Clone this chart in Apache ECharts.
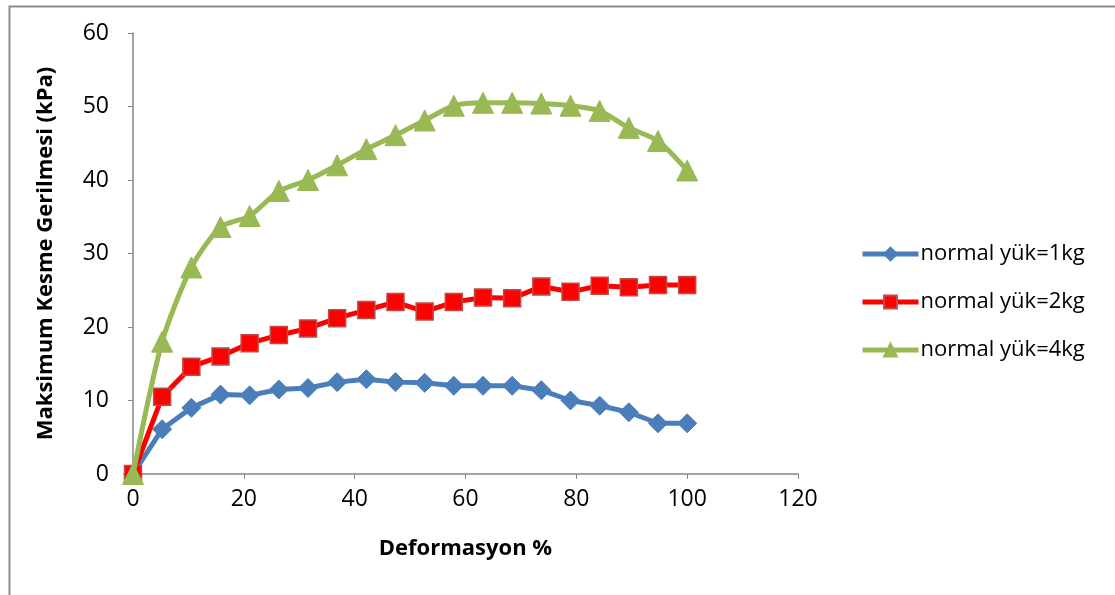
<!DOCTYPE html>
<html>
<head>
<meta charset="utf-8">
<script src="https://cdn.jsdelivr.net/npm/echarts@6/dist/echarts.min.js"></script>
<style>
html,body{margin:0;padding:0;background:#fff;}
#chart{width:1115px;height:595px;}
</style>
</head>
<body>
<div id="chart"></div>
<script>
const deformation = [0, 5.26, 10.53, 15.79, 21.05, 26.32, 31.58, 36.84, 42.11, 47.37, 52.63, 57.89, 63.16, 68.42, 73.68, 78.95, 84.21, 89.47, 94.74, 100];
const load1kg = [0, 6.1, 9.0, 10.8, 10.7, 11.5, 11.7, 12.5, 12.9, 12.5, 12.4, 12.0, 12.0, 12.0, 11.4, 10.0, 9.3, 8.4, 6.9, 6.9];
const load2kg = [0, 10.5, 14.6, 16.0, 17.8, 18.9, 19.8, 21.2, 22.3, 23.4, 22.1, 23.4, 24.0, 23.9, 25.5, 24.8, 25.6, 25.4, 25.7, 25.7];
const load4kg = [0, 18.0, 28.1, 33.6, 35.1, 38.5, 40.0, 42.0, 44.2, 46.1, 48.1, 50.1, 50.5, 50.5, 50.4, 50.1, 49.4, 47.1, 45.3, 41.3];
const seriesNames = ['normal yük=1kg', 'normal yük=2kg', 'normal yük=4kg'];
const xTitle = 'Deformasyon %';
const yTitle = 'Maksimum Kesme Gerilmesi (kPa)';

const pairs = ys => deformation.map((x, i) => [x, ys[i]]);
const font = '"Open Sans", "Liberation Sans", sans-serif';

const chart = echarts.init(document.getElementById('chart'));
chart.setOption({
  animation: false,
  backgroundColor: '#fff',
  textStyle: { fontFamily: font },
  graphic: [{
    type: 'rect', left: 7, top: 4, silent: true,
    shape: { width: 1200, height: 700 },
    style: { fill: 'none', stroke: '#8c8c8c', lineWidth: 2 }
  }],
  grid: { left: 133, right: 317, top: 33, bottom: 121, containLabel: false },
  legend: {
    orient: 'vertical', left: 855, top: 238, itemGap: 26,
    itemWidth: 56, itemHeight: 16,
    lineStyle: { width: 5 },
    textStyle: { fontSize: 22, color: '#000', fontFamily: font, padding: [0, 0, 0, -3] },
    data: seriesNames
  },
  xAxis: {
    type: 'value', min: 0, max: 120, interval: 20,
    name: xTitle, nameLocation: 'middle', nameGap: 64,
    nameTextStyle: { fontSize: 22, fontWeight: 'bold', color: '#000', fontFamily: font },
    axisLine: { lineStyle: { color: '#868686', width: 1.5 } },
    axisTick: { show: true, length: 5, lineStyle: { color: '#868686' } },
    axisLabel: { fontSize: 23, color: '#000', margin: 14 },
    splitLine: { show: false }
  },
  yAxis: {
    type: 'value', min: 0, max: 60, interval: 10,
    name: yTitle, nameLocation: 'middle', nameGap: 76,
    nameTextStyle: { fontSize: 22, fontWeight: 'bold', color: '#000', fontFamily: font },
    axisLine: { show: true, lineStyle: { color: '#868686', width: 1.5 } },
    axisTick: { show: true, length: 5, lineStyle: { color: '#868686' } },
    axisLabel: { fontSize: 23, color: '#000', margin: 24 },
    splitLine: { show: false }
  },
  series: [
    {
      name: seriesNames[0], type: 'line', data: pairs(load1kg),
      symbol: 'diamond', symbolSize: 19,
      lineStyle: { color: '#4a7ebb', width: 5 },
      itemStyle: { color: '#4a7ebb', borderColor: '#4a7ebb', borderWidth: 1 },
      z: 2
    },
    {
      name: seriesNames[1], type: 'line', data: pairs(load2kg),
      symbol: 'rect', symbolSize: 17,
      lineStyle: { color: '#ff0000', width: 5 },
      itemStyle: { color: '#ff0000', borderColor: '#be4b48', borderWidth: 1.5 },
      z: 3
    },
    {
      name: seriesNames[2], type: 'line', data: pairs(load4kg),
      symbol: 'triangle', symbolSize: 21, smooth: 0.25,
      lineStyle: { color: '#98b954', width: 5 },
      itemStyle: { color: '#98b954', borderColor: '#98b954', borderWidth: 1 },
      z: 4
    }
  ]
});
</script>
</body>
</html>
